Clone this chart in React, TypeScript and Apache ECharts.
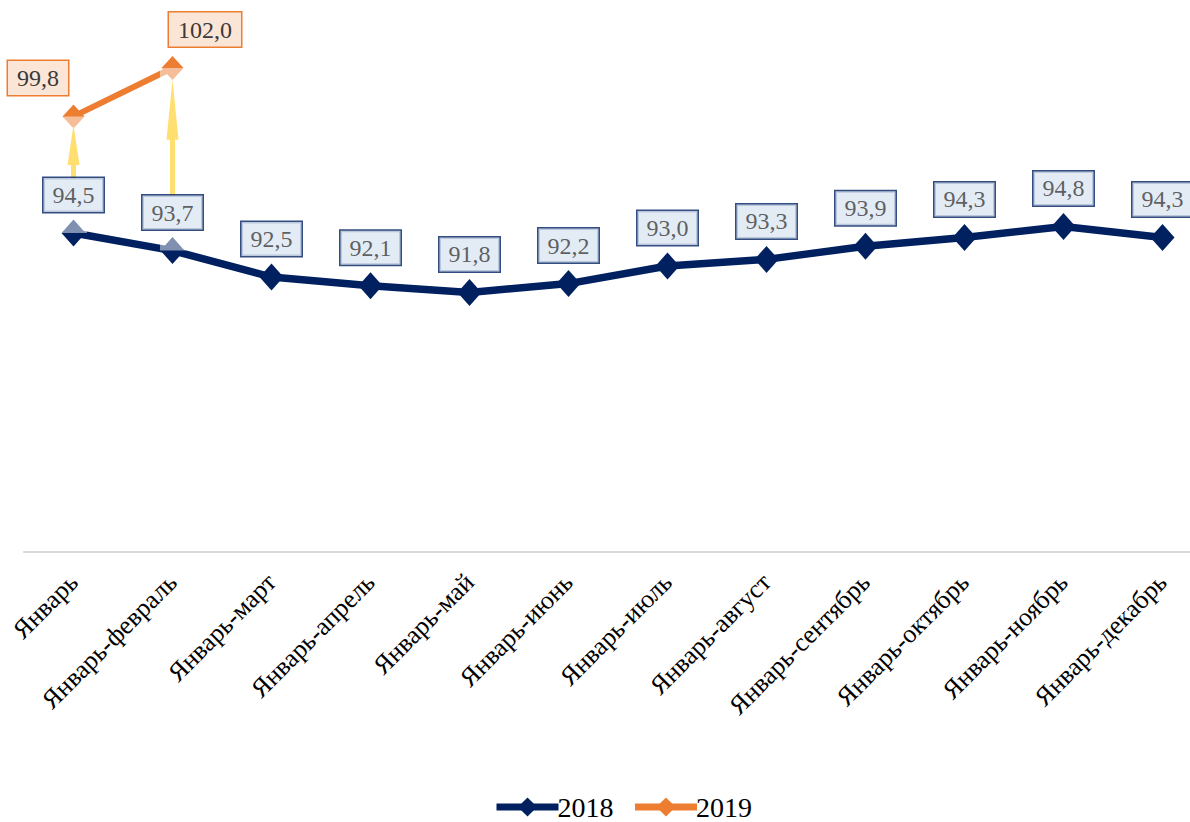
import React, { useEffect, useRef } from "react";
import * as echarts from "echarts";

const categories = [
  "Январь",
  "Январь-февраль",
  "Январь-март",
  "Январь-апрель",
  "Январь-май",
  "Январь-июнь",
  "Январь-июль",
  "Январь-август",
  "Январь-сентябрь",
  "Январь-октябрь",
  "Январь-ноябрь",
  "Январь-декабрь",
];
const values2018 = [94.5, 93.7, 92.5, 92.1, 91.8, 92.2, 93.0, 93.3, 93.9, 94.3, 94.8, 94.3];
const values2019: (number | null)[] = [99.8, 102.0, null, null, null, null, null, null, null, null, null, null];
// arrows from the 2018 label up to the 2019 point: [category index, start value, end value, head length]
const arrows: [number, number, number, number][] = [
  [0, 97.0, 98.5, 40],
  [1, 96.2, 100.1, 60],
];

const FONT = "'Liberation Serif', 'Times New Roman', serif";

export default function App() {
  const ref = useRef<HTMLDivElement>(null);
  useEffect(() => {
    if (!ref.current) return;
    const chart = echarts.init(ref.current, undefined, { renderer: "svg" });
    const fmt = (p: any) => {
      const v = Array.isArray(p.value) ? p.value[1] : p.value;
      return v == null ? "" : Number(v).toFixed(1).replace(".", ",");
    };
    const labelBase = {
      show: true,
      position: "top",
      formatter: fmt,
      fontFamily: FONT,
      fontSize: 24,
      color: "#3a3a3a",
      borderWidth: 1.5,
      padding: [5, 9, 5, 9],
    };
    chart.setOption({
      animation: false,
      backgroundColor: "#ffffff",
      grid: { left: 24, right: 0, top: 2, bottom: 270, containLabel: false },
      legend: {
        bottom: -4,
        left: 488,
        itemWidth: 62,
        itemHeight: 24,
        itemGap: 18,
        lineStyle: { width: 7 },
        textStyle: { fontFamily: FONT, fontSize: 28, color: "#000000", padding: [0, 0, 0, -6] },
        data: ["2018", "2019"],
      },
      xAxis: {
        type: "category",
        data: categories,
        boundaryGap: true,
        axisLine: { show: true, lineStyle: { color: "#d9d9d9", width: 2 } },
        axisTick: { show: false },
        axisLabel: {
          interval: 0,
          rotate: 45,
          margin: 26,
          fontFamily: FONT,
          fontSize: 26,
          color: "#000000",
        },
      },
      yAxis: {
        type: "value",
        min: 80,
        max: 105,
        show: false,
        splitLine: { show: false },
      },
      series: [
        {
          name: "2018",
          type: "line",
          data: values2018,
          symbol: "diamond",
          symbolSize: [24, 27],
          lineStyle: { color: "#002060", width: 7.5 },
          itemStyle: { color: "#002060" },
          z: 2,
        },
        {
          name: "2019",
          type: "line",
          data: values2019,
          symbol: "diamond",
          symbolSize: [22, 24],
          lineStyle: { color: "#ed7d31", width: 6 },
          itemStyle: { color: "#ed7d31" },
          label: {
            ...labelBase,
            distance: 10,
            backgroundColor: "#fbe5d6",
            borderColor: "#ed7d31",
          },
          labelLayout: (params: any) => {
            const dx = params.dataIndex === 0 ? -34 : 34;
            return { x: params.labelRect.x + dx, y: params.labelRect.y + 2 };
          },
          z: 3,
        },
        {
          name: "band",
          type: "line",
          data: [],
          silent: true,
          z: 4,
          markLine: {
            silent: true,
            symbol: ["none", "none"],
            label: { show: false },
            lineStyle: { color: "rgba(255,255,255,0.5)", width: 26, type: "solid", cap: "butt" },
            data: [0, 1].map((i) => [
              { coord: [categories[i], values2018[i]] },
              { coord: [categories[i], values2019[i] as number] },
            ]),
          },
        },
        {
          name: "arrows",
          type: "line",
          data: [],
          silent: true,
          z: 5,
          markLine: {
            silent: true,
            symbol: ["none", "triangle"],
            label: { show: false },
            lineStyle: { color: "#ffdf70", width: 5, type: "solid", opacity: 1 },
            data: arrows.map(([i, a, b, h]) => [
              { coord: [categories[i], a], symbol: "none" },
              { coord: [categories[i], b], symbol: "triangle", symbolSize: [12, h] },
            ]),
          },
        },
        {
          name: "labels2018",
          type: "scatter",
          data: values2018.map((v, i) => [categories[i], v]),
          symbol: "circle",
          symbolSize: 26,
          itemStyle: { color: "rgba(0,0,0,0)" },
          silent: true,
          z: 6,
          label: {
            ...labelBase,
            distance: 8,
            backgroundColor: "#dce6f2",
            borderColor: "#002060",
          },
        },
      ],
    });
    return () => chart.dispose();
  }, []);
  return (
    <div style={{ position: "fixed", left: 0, top: 0, width: 1190, height: 822, overflow: "hidden", background: "#fff" }}>
      <div ref={ref} style={{ width: 1212, height: 822 }} />
    </div>
  );
}
